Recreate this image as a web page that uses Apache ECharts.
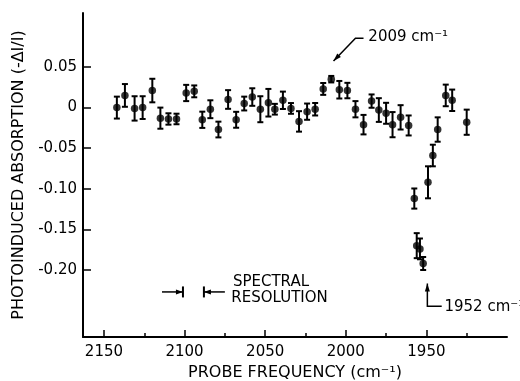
<!DOCTYPE html>
<html>
<head>
<meta charset="utf-8">
<script src="https://cdn.jsdelivr.net/npm/echarts@6/dist/echarts.min.js"></script>
<style>
html, body { margin: 0; padding: 0; background: #fff; }
#chart { width: 520px; height: 381px; }
</style>
</head>
<body>
<div id="chart"></div>
<script>
// probe frequency (cm-1), photoinduced absorption and error half-widths
const freq = [2142, 2137, 2131, 2126, 2120, 2115, 2110, 2105, 2099, 2094,
    2089, 2084, 2079, 2073, 2068, 2063, 2058, 2053, 2048, 2044,
    2039, 2034, 2029, 2024, 2019, 2014, 2009, 2004, 1999, 1994,
    1989, 1984, 1979.5, 1975, 1971, 1966, 1961, 1957.5, 1956, 1954,
    1952, 1949, 1946, 1943, 1938, 1934, 1925];
const absorb = [0.000, 0.015, -0.001, 0.000, 0.021, -0.013, -0.014, -0.014, 0.018, 0.020,
    -0.015, -0.002, -0.027, 0.010, -0.015, 0.005, 0.013, -0.002, 0.006, -0.002,
    0.009, -0.001, -0.017, -0.005, -0.002, 0.023, 0.035, 0.022, 0.021, -0.002,
    -0.021, 0.008, -0.003, -0.007, -0.021, -0.012, -0.022, -0.112, -0.170, -0.174,
    -0.192, -0.092, -0.059, -0.027, 0.015, 0.009, -0.018];
const errs = [0.0135, 0.014, 0.015, 0.014, 0.0145, 0.013, 0.007, 0.0065, 0.010, 0.0073,
    0.010, 0.011, 0.0097, 0.0115, 0.0098, 0.0085, 0.0108, 0.016, 0.017, 0.0066,
    0.0107, 0.0066, 0.0126, 0.010, 0.0077, 0.0073, 0.004, 0.0108, 0.0095, 0.010,
    0.012, 0.0082, 0.0146, 0.0129, 0.0155, 0.015, 0.0123, 0.0124, 0.0154, 0.0128,
    0.008, 0.0197, 0.0133, 0.015, 0.0133, 0.0132, 0.0155];

const xTicks = [1950, 2000, 2050, 2100, 2150];
const xMinorTicks = [1925, 1975, 2025, 2075, 2125];
const yTicks = [0.05, 0, -0.05, -0.10, -0.15, -0.20];

// annotations (data space)
const arrowLines = [
    [[1989, 0.0855], [1994, 0.0855], [2007.6, 0.0575]],
    [[1940.5, -0.2445], [1949.4, -0.2445], [1949.4, -0.2165]]
];
const arrowTexts = [
    { at: [1986, 0.087], text: '2009 cm\u207B\u00B9' },
    { at: [1938.8, -0.246], text: '1952 cm\u207B\u00B9' }
];
const resolution = [2101, 2088];   // spectral resolution bars
const resolutionY = -0.227;
const resolutionText = [
    { at: [2070, -0.2148], text: 'SPECTRAL' },
    { at: [2071, -0.2345], text: 'RESOLUTION' }
];

const FONT = '"DejaVu Sans", sans-serif';
const chart = echarts.init(document.getElementById('chart'));

function arrowHead(tip, from, len, half) {
    const dx = tip[0] - from[0], dy = tip[1] - from[1];
    const d = Math.sqrt(dx * dx + dy * dy) || 1;
    const ux = dx / d, uy = dy / d;
    const bx = tip[0] - ux * len, by = tip[1] - uy * len;
    return [tip, [bx - uy * half, by + ux * half], [bx + uy * half, by - ux * half]];
}

const errData = freq.map((f, i) => [f, absorb[i], errs[i]]);

chart.setOption({
    animation: false,
    grid: { left: 83, right: 13, top: 13, bottom: 44, outerBoundsMode: 'none' },
    xAxis: [{
        type: 'value',
        min: 1900, max: 2163, interval: 50,
        inverse: true,
        position: 'bottom',
        name: 'PROBE FREQUENCY (cm\u207B\u00B9)',
        nameLocation: 'middle',
        nameGap: 26,
        nameTextStyle: { fontFamily: FONT, fontSize: 16, color: '#000' },
        axisLine: { onZero: false, lineStyle: { color: '#000', width: 2 } },
        axisTick: { inside: true, length: 7, customValues: xTicks, lineStyle: { color: '#000', width: 1.5 } },
        axisLabel: {
            customValues: xTicks, fontFamily: FONT, fontSize: 15, color: '#000', margin: 8,
            formatter: v => String(v)
        },
        splitLine: { show: false }
    }, {
        type: 'value',
        min: 1900, max: 2163,
        inverse: true,
        position: 'bottom',
        axisLine: { show: false, onZero: false },
        axisTick: { inside: true, length: 4, customValues: xMinorTicks, lineStyle: { color: '#000', width: 1.5 } },
        axisLabel: { show: false },
        splitLine: { show: false }
    }],
    yAxis: {
        type: 'value',
        min: -0.2825, max: 0.1165,
        name: 'PHOTOINDUCED ABSORPTION (-\u0394I/I)',
        nameLocation: 'middle',
        nameGap: 55,
        nameTextStyle: { fontFamily: FONT, fontSize: 16, color: '#000' },
        axisLine: { show: true, onZero: false, lineStyle: { color: '#000', width: 2 } },
        axisTick: { show: true, inside: true, length: 8, customValues: yTicks, lineStyle: { color: '#000', width: 1.5 } },
        axisLabel: {
            customValues: yTicks, fontFamily: FONT, fontSize: 15, color: '#000', margin: 6,
            formatter: v => (Math.abs(v) < 1e-9 ? '0' : v.toFixed(2))
        },
        splitLine: { show: false }
    },
    series: [{
        type: 'custom',
        name: 'error bars',
        data: errData,
        renderItem: (params, api) => {
            const x = api.value(0), y = api.value(1), e = api.value(2);
            const top = api.coord([x, y + e]);
            const bot = api.coord([x, y - e]);
            const st = { stroke: '#000', lineWidth: 2 };
            return {
                type: 'group',
                children: [
                    { type: 'line', shape: { x1: top[0], y1: top[1], x2: bot[0], y2: bot[1] }, style: st },
                    { type: 'line', shape: { x1: top[0] - 3, y1: top[1], x2: top[0] + 3, y2: top[1] }, style: st },
                    { type: 'line', shape: { x1: bot[0] - 3, y1: bot[1], x2: bot[0] + 3, y2: bot[1] }, style: st }
                ]
            };
        },
        z: 2
    }, {
        type: 'scatter',
        data: freq.map((f, i) => [f, absorb[i]]),
        symbol: 'circle',
        symbolSize: 7.5,
        itemStyle: { color: '#000' },
        z: 3
    }, {
        type: 'custom',
        name: 'annotations',
        data: arrowLines.map(a => a[0]),
        renderItem: (params, api) => {
            const pts = arrowLines[params.dataIndex].map(p => api.coord(p));
            const n = pts.length;
            const head = arrowHead(pts[n - 1], pts[n - 2], 8, 2.5);
            const t = arrowTexts[params.dataIndex];
            const tp = api.coord(t.at);
            return {
                type: 'group',
                children: [
                    { type: 'polyline', shape: { points: pts.slice(0, n - 1).concat([head[0]]) }, style: { stroke: '#000', lineWidth: 1.5, fill: null } },
                    { type: 'polygon', shape: { points: head }, style: { fill: '#000' } },
                    { type: 'text', style: { text: t.text, x: tp[0], y: tp[1], fill: '#000', font: '15px ' + FONT, align: 'left', verticalAlign: 'middle' } }
                ]
            };
        },
        z: 4
    }, {
        type: 'custom',
        name: 'resolution',
        data: resolution.map(r => [r, resolutionY]),
        renderItem: (params, api) => {
            const i = params.dataIndex;
            const bar = api.coord([resolution[i], resolutionY]);
            // arrows come in from outside the pair
            const dir = i === 0 ? 1 : -1;
            const tail = api.coord([resolution[i] + dir * 13, resolutionY]);
            const head = arrowHead([bar[0], bar[1]], tail, 7, 2.5);
            const children = [
                { type: 'line', shape: { x1: tail[0], y1: tail[1], x2: bar[0], y2: bar[1] }, style: { stroke: '#000', lineWidth: 1.5 } },
                { type: 'polygon', shape: { points: head }, style: { fill: '#000' } },
                { type: 'line', shape: { x1: bar[0], y1: bar[1] - 5.5, x2: bar[0], y2: bar[1] + 5.5 }, style: { stroke: '#000', lineWidth: 2 } }
            ];
            if (i === 1) {
                resolutionText.forEach(t => {
                    const p = api.coord(t.at);
                    children.push({ type: 'text', style: { text: t.text, x: p[0], y: p[1], fill: '#000', font: '15px ' + FONT, align: 'left', verticalAlign: 'middle' } });
                });
            }
            return { type: 'group', children: children };
        },
        z: 4
    }]
});
</script>
</body>
</html>
